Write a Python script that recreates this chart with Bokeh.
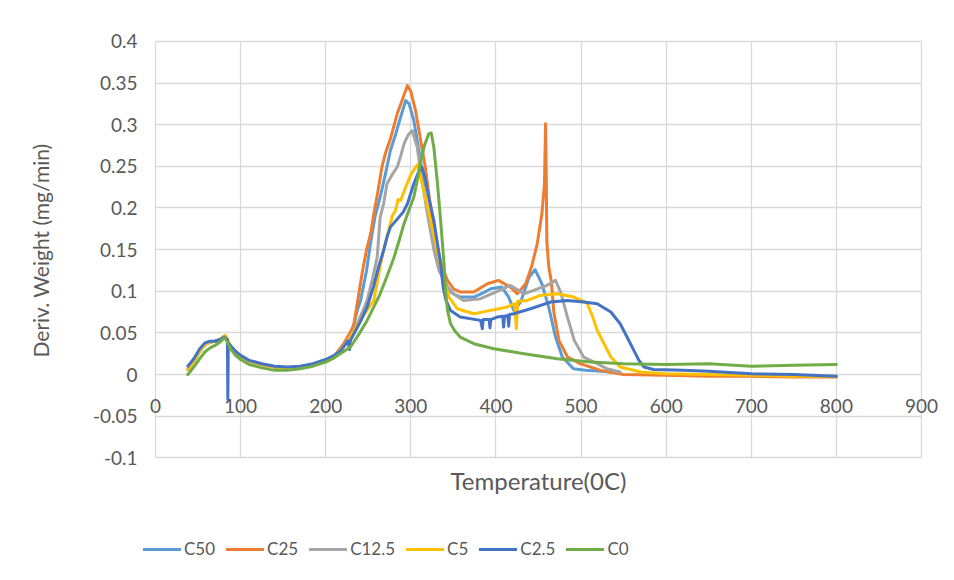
import math
from bokeh.plotting import figure
from bokeh.models import (Range1d, FixedTicker, PrintfTickFormatter, Legend, LegendItem, Label, Grid)
from bokeh.embed import file_html
from bokeh.resources import INLINE

# ---------------- data ----------------
series_names = ["C50", "C25", "C12.5", "C5", "C2.5", "C0"]
series_colors = ["#5B9BD5", "#ED7D31", "#A5A5A5", "#FFC000", "#4472C4", "#70AD47"]

x_ticks = [0, 100, 200, 300, 400, 500, 600, 700, 800, 900]
y_ticks = [-0.1, -0.05, 0, 0.05, 0.1, 0.15, 0.2, 0.25, 0.3, 0.35, 0.4]

c50_t = [38, 45, 52, 58, 64, 70, 76, 81, 84, 88, 94, 100, 110, 125, 140, 155, 170, 185, 200, 210,
         218, 225, 232, 237, 241, 248, 253, 258, 264, 270, 276, 282, 288, 294, 298, 303.5, 311, 317, 325,
         333, 338, 343, 350, 358, 374, 385, 394, 407, 415, 421, 429, 439, 446, 454, 462, 470, 478, 491,
         505, 523, 545]
c50_w = [0.006, 0.016, 0.028, 0.036, 0.039, 0.040, 0.042, 0.046, 0.042, 0.034, 0.027, 0.022, 0.016,
         0.012, 0.009, 0.008, 0.009, 0.012, 0.017, 0.022,
         0.030, 0.040, 0.055, 0.077, 0.089, 0.125, 0.160, 0.190, 0.213, 0.240, 0.269, 0.288, 0.309,
         0.329, 0.325, 0.305, 0.260, 0.213, 0.173, 0.129, 0.115, 0.105, 0.097, 0.093, 0.093, 0.098,
         0.103, 0.105, 0.093, 0.077, 0.087, 0.117, 0.126, 0.109, 0.081, 0.045, 0.021, 0.007, 0.005,
         0.004, 0.002]

c25_t = [38, 45, 52, 58, 64, 70, 76, 81, 84, 88, 94, 100, 110, 125, 140, 155, 170, 185, 200, 210,
         221, 229, 233, 237, 243, 248, 253, 256.5, 260.5, 266, 270, 276, 284, 290, 296, 300, 305.5, 313,
         317, 322, 328, 335, 343, 350, 358, 374, 390, 403, 417, 425, 435, 442, 448.5, 454, 457, 458.3,
         459.2, 459.8, 462, 465, 468, 474, 484, 499, 523, 550, 600, 650, 700, 750, 800]
c25_w = [0.006, 0.016, 0.028, 0.036, 0.039, 0.040, 0.042, 0.046, 0.042, 0.034, 0.027, 0.022, 0.016,
         0.012, 0.009, 0.008, 0.009, 0.012, 0.017, 0.022,
         0.037, 0.051, 0.060, 0.085, 0.123, 0.150, 0.170, 0.193, 0.215, 0.249, 0.265, 0.283, 0.313,
         0.330, 0.347, 0.340, 0.317, 0.273, 0.249, 0.210, 0.170, 0.135, 0.113, 0.103, 0.099, 0.099,
         0.109, 0.113, 0.105, 0.097, 0.109, 0.130, 0.157, 0.193, 0.229, 0.301, 0.229, 0.160, 0.130,
         0.112, 0.075, 0.041, 0.021, 0.013, 0.005, 0.000, -0.001, -0.002, -0.002, -0.003, -0.003]

c12_t = [38, 45, 52, 58, 64, 70, 76, 81, 84, 88, 94, 100, 110, 125, 140, 155, 170, 185, 200, 210,
         218, 225, 232, 237, 243, 248.6, 255, 260.5, 264, 268, 272, 278, 284, 288, 292, 297, 301.6,
         307.5, 313, 320, 327, 333, 339, 346.6, 362, 382, 399.5, 417, 433, 444.5, 460, 470, 476, 484,
         492, 503, 519, 530, 546]
c12_w = [0.006, 0.016, 0.028, 0.036, 0.039, 0.040, 0.042, 0.046, 0.042, 0.034, 0.027, 0.022, 0.016,
         0.012, 0.009, 0.008, 0.009, 0.012, 0.017, 0.022,
         0.030, 0.040, 0.050, 0.061, 0.075, 0.089, 0.115, 0.141, 0.189, 0.205, 0.229, 0.240, 0.249,
         0.262, 0.277, 0.288, 0.293, 0.273, 0.233, 0.190, 0.150, 0.125, 0.113, 0.099, 0.089, 0.091,
         0.099, 0.107, 0.097, 0.101, 0.107, 0.113, 0.099, 0.069, 0.041, 0.021, 0.013, 0.007, 0.003]

c5_t = [38, 45, 52, 58, 64, 70, 76, 82, 85, 88, 94, 100, 110, 125, 140, 155, 170, 185, 200, 210,
        218, 225, 235, 245, 256.5, 264, 268, 274, 278, 282, 285, 288, 294, 300, 305, 308, 312, 317, 325,
        331, 337, 344.7, 354.5, 374, 393.7, 413, 422, 424, 425.5, 437, 452, 472, 491.5, 507, 513, 519,
        527, 535, 546, 570, 600, 650, 700, 750, 800]
c5_w = [0.006, 0.016, 0.028, 0.036, 0.039, 0.040, 0.042, 0.047, 0.042, 0.034, 0.027, 0.022, 0.016,
        0.012, 0.009, 0.008, 0.009, 0.012, 0.017, 0.022,
        0.030, 0.038, 0.055, 0.072, 0.089, 0.130, 0.149, 0.173, 0.190, 0.197, 0.210, 0.209, 0.225,
        0.240, 0.248, 0.252, 0.235, 0.213, 0.177, 0.149, 0.121, 0.093, 0.079, 0.073, 0.077, 0.081,
        0.085, 0.055, 0.088, 0.089, 0.095, 0.097, 0.093, 0.086, 0.071, 0.053, 0.037, 0.021, 0.009,
        0.003, 0.001, 0.000, -0.001, -0.002, -0.002]

c2_t = [38, 45, 52, 58, 64, 70, 76, 81, 84.5, 85, 85.5, 88, 94, 100, 110, 125, 140, 155, 170, 185,
        200, 210, 218, 226, 228, 229, 240, 248.6, 256, 262, 268, 272, 276, 281, 286, 291, 296, 303.5,
        309, 313, 317, 321, 327, 335, 338, 341, 346.6, 358, 382, 384, 385, 392, 393, 394, 401.5, 408,
        409, 410, 414, 415, 416, 421, 440.6, 464, 484, 503, 519, 535, 546, 554, 562, 568, 574, 585,
        620, 650, 700, 750, 800]
c2_w = [0.010, 0.019, 0.031, 0.038, 0.040, 0.040, 0.042, 0.045, 0.042, -0.030, 0.038, 0.035, 0.028,
        0.023, 0.017, 0.013, 0.010, 0.009, 0.010, 0.013, 0.018, 0.023,
        0.029, 0.040, 0.030, 0.041, 0.062, 0.081, 0.105, 0.129, 0.149, 0.165, 0.177, 0.183, 0.189,
        0.195, 0.205, 0.229, 0.243, 0.249, 0.235, 0.213, 0.185, 0.133, 0.105, 0.090, 0.077, 0.069,
        0.065, 0.055, 0.066, 0.066, 0.056, 0.066, 0.069, 0.070, 0.057, 0.070, 0.071, 0.058, 0.072,
        0.073, 0.079, 0.087, 0.089, 0.087, 0.085, 0.075, 0.061, 0.045, 0.029, 0.017, 0.009, 0.006,
        0.005, 0.004, 0.001, 0.000, -0.002]

c0_t = [38, 45, 52, 58, 64, 70, 76, 81, 84, 88, 94, 100, 110, 125, 140, 155, 170, 185, 200, 210,
        229, 240, 248.6, 256, 264, 272, 280, 286, 292, 298, 303.5, 308, 311, 316, 321, 324, 327, 331,
        335, 339, 340.8, 343, 346.6, 352, 358, 374, 397.5, 433, 472, 511, 550, 600, 650, 700, 750, 800]
c0_w = [0.000, 0.009, 0.019, 0.027, 0.032, 0.035, 0.039, 0.044, 0.040, 0.031, 0.023, 0.018, 0.012,
        0.008, 0.005, 0.005, 0.007, 0.010, 0.015, 0.020,
        0.033, 0.050, 0.065, 0.080, 0.097, 0.118, 0.140, 0.160, 0.181, 0.198, 0.213, 0.235, 0.253,
        0.275, 0.289, 0.290, 0.273, 0.233, 0.185, 0.133, 0.100, 0.078, 0.061, 0.052, 0.045, 0.037,
        0.031, 0.025, 0.019, 0.015, 0.013, 0.012, 0.013, 0.010, 0.011, 0.012]

series_t = [c50_t, c25_t, c12_t, c5_t, c2_t, c0_t]
series_w = [c50_w, c25_w, c12_w, c5_w, c2_w, c0_w]

# ---------------- layout ----------------
W, H = 954, 580
FRAME_L, FRAME_T = 0, 0             # the frame covers the whole canvas
PX0, PX900 = 155.0, 921.0           # where x = 0 and x = 900 sit
PY04, PYM01 = 40.9, 457.3           # where y = 0.4 and y = -0.1 sit
sx = (PX900 - PX0) / 900.0
sy = (PYM01 - PY04) / 0.5
x_start = -(PX0 - FRAME_L) / sx
x_end = x_start + (W - FRAME_L) / sx
y_end = 0.4 + (PY04 - FRAME_T) / sy
y_start = y_end - (H - FRAME_T) / sy

FONT = "Lato"
TXT = "#595959"
GRID = "#D9D9D9"

p = figure(width=W, height=H, title=None, x_range=Range1d(x_start, x_end), y_range=Range1d(y_start, y_end),
           output_backend="svg", toolbar_location=None,
           min_border_left=FRAME_L, min_border_right=0, min_border_top=FRAME_T, min_border_bottom=0)
p.outline_line_color = None
p.background_fill_color = "white"
p.border_fill_color = "white"

has_cross = "cross_bounds" in Grid.properties()
p.xgrid.ticker = FixedTicker(ticks=x_ticks)
p.ygrid.ticker = FixedTicker(ticks=y_ticks)
if has_cross:
    p.grid.grid_line_color = GRID
    p.grid.grid_line_width = 1.3
    p.xgrid.cross_bounds = (y_ticks[0], y_ticks[-1])
    p.ygrid.cross_bounds = (x_ticks[0], x_ticks[-1])
else:
    p.grid.grid_line_color = None
    p.segment(x0=x_ticks, x1=x_ticks, y0=[y_ticks[0]] * len(x_ticks), y1=[y_ticks[-1]] * len(x_ticks),
              line_color=GRID, line_width=1.3)
    p.segment(x0=[x_ticks[0]] * len(y_ticks), x1=[x_ticks[-1]] * len(y_ticks), y0=y_ticks, y1=y_ticks,
              line_color=GRID, line_width=1.3)

p.xaxis.ticker = FixedTicker(ticks=x_ticks)
p.xaxis.fixed_location = 0
p.xaxis.axis_line_color = None
p.xaxis.major_tick_line_color = None
p.xaxis.minor_tick_line_color = None
p.xaxis.major_label_standoff = 18
p.xaxis.major_label_text_font = FONT
p.xaxis.major_label_text_font_size = "19px"
p.xaxis.major_label_text_color = TXT

p.yaxis.ticker = FixedTicker(ticks=y_ticks)
p.yaxis.fixed_location = 0
p.yaxis.formatter = PrintfTickFormatter(format="%g")
p.yaxis.axis_line_color = None
p.yaxis.major_tick_line_color = None
p.yaxis.minor_tick_line_color = None
p.yaxis.major_label_standoff = 12
p.yaxis.major_label_text_font = FONT
p.yaxis.major_label_text_font_size = "19px"
p.yaxis.major_label_text_color = TXT

# axis titles (screen positions measured from the frame's left / bottom edge)
p.add_layout(Label(x=40 - FRAME_L, y=H - 250, x_units="screen", y_units="screen",
                   text="Deriv. Weight (mg/min)", angle=math.pi / 2,
                   text_align="center", text_baseline="middle",
                   text_font=FONT, text_font_size="21px", text_color=TXT))
p.add_layout(Label(x=538 - FRAME_L, y=H - 480, x_units="screen", y_units="screen",
                   text="Temperature(0C)", text_align="center", text_baseline="middle",
                   text_font=FONT, text_font_size="24px", text_color=TXT))

items = []
for name, color, t, w in zip(series_names, series_colors, series_t, series_w):
    r = p.line(t, w, line_color=color, line_width=3, line_join="round", line_cap="round")
    items.append(LegendItem(label=name, renderers=[r]))

legend = Legend(items=items, orientation="horizontal", location=(143 - FRAME_L, H - 559),
                glyph_width=38, glyph_height=20, label_height=20, label_standoff=3, spacing=11,
                padding=0, margin=0, border_line_color=None, background_fill_alpha=0,
                label_text_font=FONT, label_text_font_size="17px", label_text_color=TXT)
p.add_layout(legend)

open("out.html", "w").write(file_html(p, INLINE))
